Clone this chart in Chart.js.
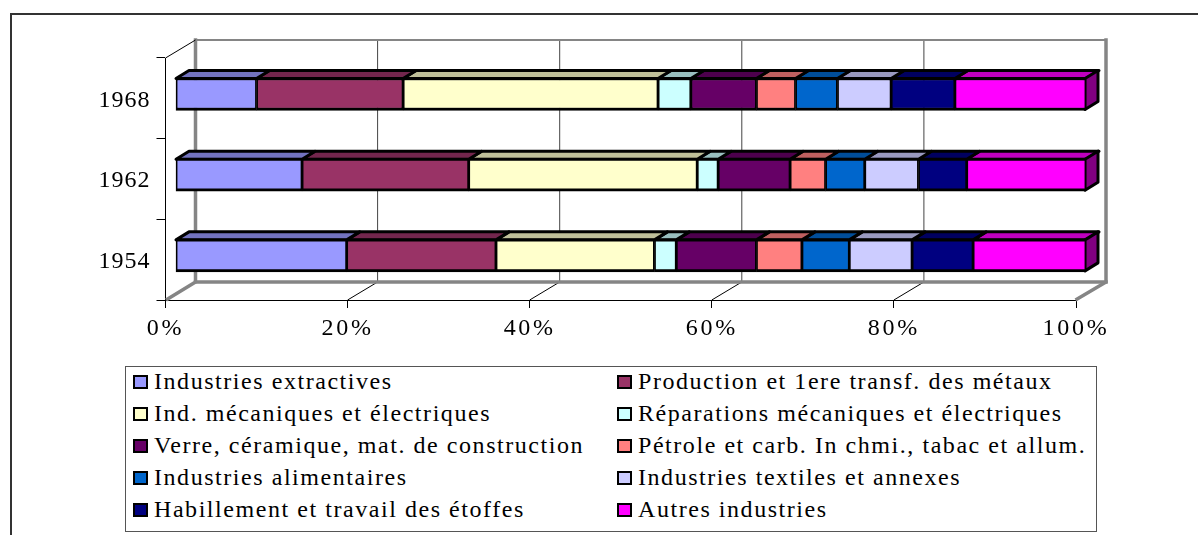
<!DOCTYPE html>
<html lang="fr">
<head>
<meta charset="utf-8">
<title>Industries</title>
<script src="https://cdn.jsdelivr.net/npm/chart.js@4/dist/chart.umd.min.js"></script>
<style>
  html, body { margin: 0; padding: 0; background: #fff; overflow: hidden; }
  #wrap { position: relative; width: 1198px; height: 535px; }
  #frame { position: absolute; left: 10px; top: 13px; right: 0; bottom: 0; border-top: 2px solid #333; border-left: 2px solid #333; }
  canvas { position: absolute; left: 0; top: 0; }
  #legend {
    position: absolute; left: 125px; top: 366px; width: 970px; height: 164px;
    border: 1.5px solid #555; background: #fff; box-sizing: content-box;
    display: grid; grid-template-columns: 484px 486px; grid-auto-rows: 32px;
    font-family: 'Liberation Serif', serif; font-size: 24px; letter-spacing: 1.55px; color: #000;
  }
  .item { display: flex; align-items: center; white-space: nowrap; position: relative; top: -1px; }
  .item .txt { position: relative; top: -1px; }
  .swatch { width: 15px; height: 14px; border: 2.5px solid #000; box-sizing: border-box; margin: 0 6px 0 7px; flex: none; }
</style>
</head>
<body>
<div id="wrap">
  <div id="frame"></div>
  <canvas id="chart" width="1198" height="535"></canvas>
  <div id="legend"></div>
</div>
<script>
// -- data ---------------------------------------------------------------
const years = ['1968', '1962', '1954'];
const extractives  = [8.9, 13.9, 18.8];
const metaux       = [16.1, 18.3, 16.4];
const mecaniques   = [28.0, 25.1, 17.4];
const reparations  = [3.6, 2.3, 2.4];
const verre        = [7.2, 7.9, 8.8];
const petrole      = [4.3, 3.9, 5.0];
const alimentaires = [4.6, 4.3, 5.2];
const textiles     = [5.9, 5.9, 6.9];
const habillement  = [7.0, 5.3, 6.7];
const autres       = [14.4, 13.1, 12.4];

const names = [
  'Industries extractives', 'Production et 1ere transf. des métaux',
  'Ind. mécaniques et électriques', 'Réparations mécaniques et électriques',
  'Verre, céramique, mat. de construction', 'Pétrole et carb. In chmi., tabac et allum.',
  'Industries alimentaires', 'Industries textiles et annexes',
  'Habillement et travail des étoffes', 'Autres industries',
];
const values = [extractives, metaux, mecaniques, reparations, verre, petrole, alimentaires, textiles, habillement, autres];
const colors = ['#9999FF', '#993366', '#FFFFCC', '#CCFFFF', '#660066', '#FF8080', '#0066CC', '#CCCCFF', '#000080', '#FF00FF'];

// -- fake 3D: back walls, floor, bar tops and sides ---------------------
const WALL = { dx: 30, dy: 18, color: '#858585' };
const BAR = { dx: 10, dy: -4.3, depthX: 13, depthY: 8 };

function shade(hex, f) {
  const n = parseInt(hex.slice(1), 16);
  const c = [n >> 16, (n >> 8) & 255, n & 255].map(v => Math.round(v * f));
  return 'rgb(' + c.join(',') + ')';
}

function face(ctx, pts, fill) {
  ctx.beginPath();
  pts.forEach((p, i) => i ? ctx.lineTo(p[0], p[1]) : ctx.moveTo(p[0], p[1]));
  ctx.closePath();
  ctx.fillStyle = fill;
  ctx.fill();
  ctx.stroke();
}

const depth3d = {
  id: 'depth3d',
  beforeDraw(chart) {
    chart.ctx.letterSpacing = '1px';   // year labels are set tighter
  },
  beforeDatasetsDraw(chart) {
    const { ctx, chartArea: a, scales } = chart;
    const l = a.left, r = a.right, t = a.top, b = a.bottom;
    const bl = l + WALL.dx, br = r + WALL.dx, bt = t - WALL.dy, bb = b - WALL.dy;

    ctx.save();
    // gridlines on the back wall and across the floor
    scales.x.ticks.forEach(tick => {
      const x = scales.x.getPixelForValue(tick.value);
      ctx.strokeStyle = '#000';
      ctx.lineWidth = 1;
      if (tick.value > 0 && tick.value < 100) {
        ctx.beginPath(); ctx.moveTo(x, b); ctx.lineTo(x + WALL.dx, bb); ctx.stroke();
        ctx.strokeStyle = '#444';
        ctx.beginPath(); ctx.moveTo(x + WALL.dx, bt); ctx.lineTo(x + WALL.dx, bb); ctx.stroke();
      }
    });

    // walls
    ctx.strokeStyle = WALL.color;
    ctx.lineCap = 'square';
    ctx.lineWidth = 2;
    ctx.beginPath(); ctx.moveTo(bl, bt); ctx.lineTo(br, bt); ctx.stroke();
    ctx.lineWidth = 3.5;
    ctx.beginPath(); ctx.moveTo(bl, bt); ctx.lineTo(bl, bb); ctx.lineTo(l + 2, b - 1); ctx.stroke();
    ctx.beginPath(); ctx.moveTo(br, bt); ctx.lineTo(br, bb); ctx.lineTo(r + 1, b - 1); ctx.stroke();
    ctx.beginPath(); ctx.moveTo(bl, bb); ctx.lineTo(br, bb); ctx.stroke();

    // edge from the top of the axis to the wall corner
    ctx.strokeStyle = '#000';
    ctx.lineWidth = 1;
    ctx.lineCap = 'butt';
    ctx.beginPath(); ctx.moveTo(l, t); ctx.lineTo(bl, bt); ctx.stroke();
    ctx.restore();

    // the bars sit a bit inside the box, so everything moves together
    ctx.save();
    ctx.translate(BAR.dx, BAR.dy);
  },
  beforeDatasetDraw(chart, args) {
    const ctx = chart.ctx;
    const base = colors[args.index];
    ctx.save();
    ctx.strokeStyle = '#000';
    ctx.lineWidth = 3;
    ctx.lineJoin = 'round';
    args.meta.data.forEach(bar => {
      const top = bar.y - bar.height / 2 + 1, bottom = bar.y + bar.height / 2 - 1;
      face(ctx, [
        [bar.base, top], [bar.x, top],
        [bar.x + BAR.depthX, top - BAR.depthY], [bar.base + BAR.depthX, top - BAR.depthY],
      ], shade(base, 0.75));
      if (args.index === values.length - 1) {
        face(ctx, [
          [bar.x - 1, top], [bar.x + BAR.depthX - 1, top - BAR.depthY],
          [bar.x + BAR.depthX - 1, bottom - BAR.depthY], [bar.x - 1, bottom],
        ], shade(base, 0.5));
      }
    });
    ctx.restore();
  },
  afterDatasetsDraw(chart) {
    chart.ctx.restore();
    chart.ctx.letterSpacing = '2.7px';   // x labels are on a later layer, see ticks.z
  },
};

const serif = "'Liberation Serif', serif";

const chart = new Chart(document.getElementById('chart'), {
  type: 'bar',
  data: {
    labels: years,
    datasets: names.map((name, i) => ({
      label: name,
      data: values[i],
      backgroundColor: colors[i],
      borderColor: '#000',
      borderWidth: { top: 3, bottom: 3, left: 1.75, right: 1.75 },
      borderSkipped: false,
      barThickness: 33,
      clip: false,
    })),
  },
  options: {
    indexAxis: 'y',
    responsive: false,
    animation: false,
    layout: { padding: { left: 0, top: 58, right: 122, bottom: 0 } },
    plugins: { legend: { display: false }, tooltip: { enabled: false } },
    scales: {
      x: {
        stacked: true,
        min: 0,
        max: 100,
        grid: { drawOnChartArea: false, tickLength: 8, color: '#000' },
        border: { color: '#000' },
        afterFit(scale) { scale.height = 235; },
        ticks: {
          stepSize: 20,
          maxRotation: 0,
          color: '#000',
          font: { family: serif, size: 24 },
          padding: 6,
          z: 1,
          callback: v => v + '%',
        },
      },
      y: {
        stacked: true,
        grid: { drawOnChartArea: false, tickLength: 9, color: '#000' },
        border: { color: '#000' },
        afterFit(scale) { scale.width = 165.5; },
        ticks: { color: '#000', font: { family: serif, size: 24 }, padding: 6, labelOffset: 2 },
      },
    },
  },
  plugins: [depth3d],
});

// -- legend (two columns, row by row) -----------------------------------
const legendBox = document.getElementById('legend');
chart.data.datasets.forEach(ds => {
  const item = document.createElement('div');
  item.className = 'item';
  const sw = document.createElement('span');
  sw.className = 'swatch';
  sw.style.background = ds.backgroundColor;
  const txt = document.createElement('span');
  txt.className = 'txt';
  txt.textContent = ds.label;
  item.appendChild(sw);
  item.appendChild(txt);
  legendBox.appendChild(item);
});
</script>
</body>
</html>
